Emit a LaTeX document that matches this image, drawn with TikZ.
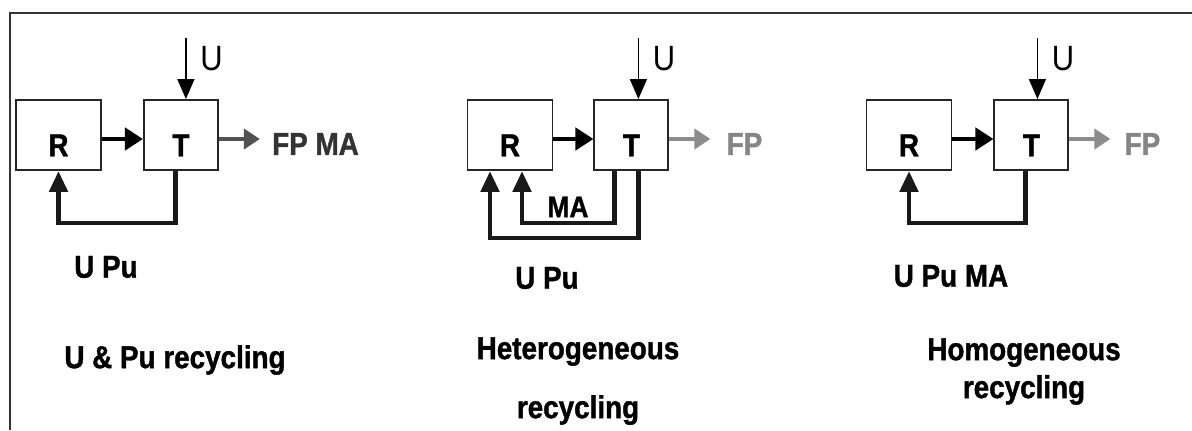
\documentclass[tikz,border=0pt]{standalone}
\usepackage{fontspec}
\setmainfont{Liberation Sans}[FakeStretch=0.88,BoldFeatures={FakeBold=1.2}]
\usepackage{tikz}
\usetikzlibrary{positioning,arrows.meta,calc}

\begin{document}
\begin{tikzpicture}
		[x=0.02cm,y=-0.02cm,
		box/.style={draw=black!85,line width=1.1pt,fill=white,minimum height=1.4cm,inner sep=0pt,text height=0.85cm,text depth=0pt,font=\bfseries\fontsize{18}{20}\selectfont},
		rbox/.style={box,minimum width=1.7cm},
		tbox/.style={box,minimum width=1.48cm},
		flow/.style={line width=2.8pt,-{Triangle[length=3.6mm,width=4.4mm]}},
		feed/.style={line width=2.8pt,black!90,-{Triangle[length=4.2mm,width=3.6mm]}},
		feedin/.style={line width=0.9pt,-{Triangle[length=4mm,width=3.4mm]}},
		outflow/.style={line width=2.6pt,-{Triangle[length=3.2mm,width=4mm]}},
		ulbl/.style={inner sep=0pt,font=\fontsize{20}{22}\selectfont},
		lbl/.style={inner sep=0pt,align=center,font=\bfseries\fontsize{18}{21.6}\selectfont}]
		\useasboundingbox (0,0) rectangle (1192,430);
		\draw[black!80,line width=1.3pt] (1192,13) -- (10,13) -- (10,430);
		% U & Pu recycling
		\node[rbox] (R1) at (58.5,135) {R};
		\node[tbox,right=0.82cm of R1] (T1) {T};
		\draw[flow] ([shift={(0,4)}]R1.east) -- ([shift={(0,4)}]T1.west);
		\coordinate (u1) at ([shift={(5,-61)}]T1.north);
		\draw[feedin] (u1) -- (u1 |- T1.north);
		\node[ulbl,anchor=west] (U1) at ([shift={(19,-40)}]T1.north) {U};
		\node[lbl,anchor=west,text=black!80] (O1) at ([shift={(53,9)}]T1.east) {FP MA};
		\draw[outflow,black!68] ([shift={(0,4)}]T1.east) -- ([shift={(-12,-5)}]O1.west);
		\draw[feed] ([shift={(-5,0)}]T1.south) -- ++(0,52) -| (R1.south);
		\node[lbl] (P1) at (106,267) {U Pu};
		\node[lbl] (N1) at (175,360) {U \& Pu recycling};
		% Heterogeneous recycling
		\node[rbox] (R2) at (510,135) {R};
		\node[tbox,right=0.8cm of R2] (T2) {T};
		\draw[flow] ([shift={(0,4)}]R2.east) -- ([shift={(0,4)}]T2.west);
		\coordinate (u2) at ([shift={(7,-61)}]T2.north);
		\draw[feedin] (u2) -- (u2 |- T2.north);
		\node[ulbl,anchor=west] (U2) at ([shift={(21,-40)}]T2.north) {U};
		\node[lbl,anchor=west,text=black!48] (O2) at ([shift={(57,9)}]T2.east) {FP};
		\draw[outflow,black!45] ([shift={(0,4)}]T2.east) -- ([shift={(-16,-5)}]O2.west);
		\draw[feed] ([shift={(-17,0)}]T2.south) -- ++(0,52) -| ([shift={(12,0)}]R2.south);
		\draw[feed] ([shift={(7,0)}]T2.south) -- ++(0,67) -| ([shift={(-20,0)}]R2.south);
		\node[lbl,font=\bfseries\fontsize{17}{20}\selectfont] (M2) at ([shift={(58,36)}]R2.south) {MA};
		\node[lbl] (P2) at (547,278) {U Pu};
		\node[lbl,anchor=north] (N2) at (578,337) {Heterogeneous\\[12pt]recycling};
		% Homogeneous recycling
		\node[rbox] (R3) at (909,135) {R};
		\node[tbox,right=0.82cm of R3] (T3) {T};
		\draw[flow] ([shift={(0,4)}]R3.east) -- ([shift={(0,4)}]T3.west);
		\coordinate (u3) at ([shift={(6,-61)}]T3.north);
		\draw[feedin] (u3) -- (u3 |- T3.north);
		\node[ulbl,anchor=west] (U3) at ([shift={(20,-40)}]T3.north) {U};
		\node[lbl,anchor=west,text=black!48] (O3) at ([shift={(55,9)}]T3.east) {FP};
		\draw[outflow,black!45] ([shift={(0,4)}]T3.east) -- ([shift={(-14,-5)}]O3.west);
		\draw[feed] ([shift={(-6,0)}]T3.south) -- ++(0,52) -| (R3.south);
		\node[lbl] (P3) at (951,276) {U Pu MA};
		\node[lbl,anchor=north] (N3) at (1024,338) {Homogeneous\\recycling};
\end{tikzpicture}
\end{document}
